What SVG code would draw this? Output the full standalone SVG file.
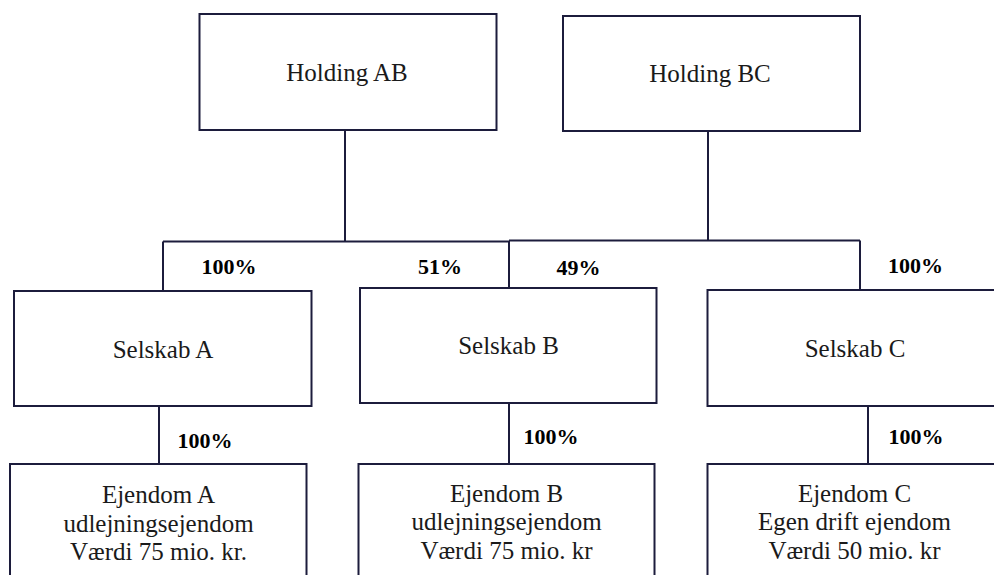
<svg xmlns="http://www.w3.org/2000/svg" width="994" height="575" viewBox="0 0 994 575">
<style>
.box{fill:#ffffff;stroke:#1c1c3c;stroke-width:2}
.ln{fill:none;stroke:#1c1c3c;stroke-width:2}
.t{font-size:25px;fill:#1a1a1a;text-anchor:middle}
.p{font-size:22px;font-weight:bold;fill:#000000}
</style>
<rect width="994" height="575" fill="#ffffff"/>
<g id="connectors">
<path class="ln" d="M345 130 V241.5 M163 241.5 H509 M163 241.5 V291 M509 241 V288"/>
<path class="ln" d="M708 131 V240.5 M509 240.5 H860 M860 240.5 V290"/>
<path class="ln" d="M159 406 V464 M509 403 V464 M868 406 V464"/>
</g>
<g font-family="Liberation Serif, DejaVu Serif, serif">
<g id="holdingAB"><rect class="box" x="199.5" y="14" width="297" height="116"/><text class="t" x="347" y="81">Holding AB</text></g>
<g id="holdingBC"><rect class="box" x="563" y="16" width="297" height="115"/><text class="t" x="710" y="82">Holding BC</text></g>
<g id="selskabA"><rect class="box" x="14" y="291" width="297.5" height="115"/><text class="t" x="163" y="358">Selskab A</text></g>
<g id="selskabB"><rect class="box" x="360" y="288" width="296.5" height="115"/><text class="t" x="508.5" y="354">Selskab B</text></g>
<g id="selskabC"><rect class="box" x="707.5" y="290" width="296" height="116"/><text class="t" x="855" y="357">Selskab C</text></g>
<g id="ejendomA"><rect class="box" x="10" y="464" width="296.5" height="130"/><text class="t" x="158.5" y="503">Ejendom A</text><text class="t" x="158.5" y="531.5">udlejningsejendom</text><text class="t" x="158.5" y="560">Værdi 75 mio. kr.</text></g>
<g id="ejendomB"><rect class="box" x="358.5" y="464" width="296" height="130"/><text class="t" x="506.5" y="502">Ejendom B</text><text class="t" x="506.5" y="530">udlejningsejendom</text><text class="t" x="506.5" y="558.5">Værdi 75 mio. kr</text></g>
<g id="ejendomC"><rect class="box" x="707.5" y="464" width="296" height="130"/><text class="t" x="854.5" y="502">Ejendom C</text><text class="t" x="854.5" y="530">Egen drift ejendom</text><text class="t" x="854.5" y="558.5">Værdi 50 mio. kr</text></g>
<g id="labels">
<text class="p" x="201.5" y="274">100%</text>
<text class="p" x="418" y="274">51%</text>
<text class="p" x="556.5" y="275">49%</text>
<text class="p" x="888" y="272.5">100%</text>
<text class="p" x="177.5" y="448">100%</text>
<text class="p" x="523.5" y="443.5">100%</text>
<text class="p" x="888.5" y="443.5">100%</text>
</g>
</g>
</svg>
